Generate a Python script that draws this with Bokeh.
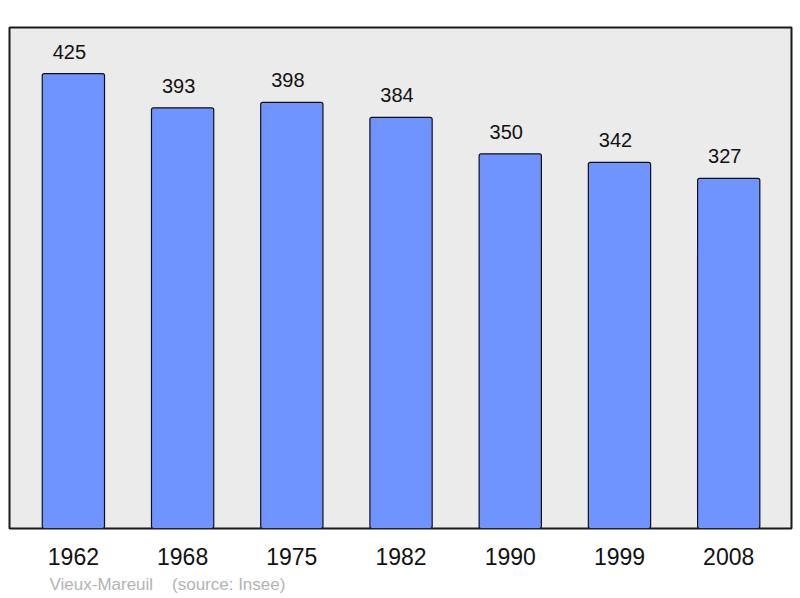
from bokeh.plotting import figure
from bokeh.models import ColumnDataSource, FixedTicker, Title
from bokeh.core.properties import value
from bokeh.embed import file_html
from bokeh.resources import INLINE

years = ["1962", "1968", "1975", "1982", "1990", "1999", "2008"]
population = [425, 393, 398, 384, 350, 342, 327]
footer = "Vieux-Mareuil\u00a0\u00a0\u00a0 (source: Insee)"

xs = list(range(len(years)))
src = ColumnDataSource(dict(x=xs, pop=population, lab=[str(v) for v in population]))

p = figure(frame_width=782, frame_height=501,
           x_range=(-0.585, 6.575), y_range=(0, 468),
           output_backend="svg", toolbar_location=None,
           min_border_left=9, min_border_right=9, min_border_top=27, min_border_bottom=0)

p.background_fill_color = "#ebebeb"
p.border_fill_color = "white"
p.outline_line_color = "#1a1a1a"
p.outline_line_width = 2
p.grid.visible = False
p.yaxis.visible = False

p.vbar(x="x", top="pop", bottom=0, width=0.57, source=src,
       fill_color="#7094ff", line_color="#111111", line_width=1.2, border_radius=2)
p.text(x="x", y="pop", text="lab", source=src, text_align="center", text_baseline="middle",
       x_offset=-4, y_offset=-22, text_font_size="20px", text_color="#111111",
       text_font=value("Liberation Sans"))

ax = p.xaxis[0]
ax.ticker = FixedTicker(ticks=xs)
ax.major_label_overrides = {i: y for i, y in zip(xs, years)}
ax.axis_line_color = None
ax.major_tick_line_color = None
ax.minor_tick_line_color = None
ax.major_tick_out = 0
ax.major_label_standoff = 19
ax.major_label_text_font_size = "23px"
ax.major_label_text_font = "Liberation Sans"
ax.major_label_text_color = "#111111"

t = Title(text=footer, align="left", offset=40, text_font_size="17px",
          text_font="Liberation Sans", text_font_style="normal", text_color="#b3b3b3")
p.add_layout(t, "below")

open("out.html", "w").write(file_html(p, INLINE))
